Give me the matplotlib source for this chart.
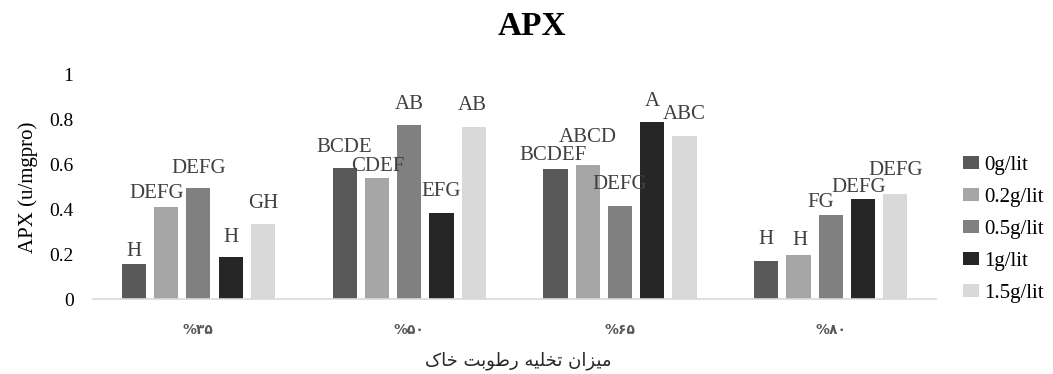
import matplotlib
matplotlib.use('Agg')
import matplotlib.pyplot as plt
import numpy as np

# Data
categories = ['%\u06f3\u06f5', '%\u06f5\u06f0', '%\u06f6\u06f5', '%\u06f8\u06f0']
doses = ['0g/lit', '0.2g/lit', '0.5g/lit', '1g/lit', '1.5g/lit']
apx_0 = [0.155, 0.585, 0.58, 0.17]
apx_02 = [0.41, 0.54, 0.60, 0.196]
apx_05 = [0.495, 0.775, 0.417, 0.377]
apx_1 = [0.186, 0.386, 0.79, 0.448]
apx_15 = [0.336, 0.768, 0.726, 0.469]
letters_0 = ['H', 'BCDE', 'BCDEF', 'H']
letters_02 = ['DEFG', 'CDEF', 'ABCD', 'H']
letters_05 = ['DEFG', 'AB', 'DEFG', 'FG']
letters_1 = ['H', 'EFG', 'A', 'DEFG']
letters_15 = ['GH', 'AB', 'ABC', 'DEFG']

series = [apx_0, apx_02, apx_05, apx_1, apx_15]
letters = [letters_0, letters_02, letters_05, letters_1, letters_15]
colors = ['#595959', '#a6a6a6', '#808080', '#262626', '#d9d9d9']

# label nudges in pixels (dx, height of label centre above bar top), per series/category
nudges = [
    [(0, 13), (0, 20), (-2, 14), (0, 21)],
    [(-9, 14), (1, 12), (0, 27), (1, 15)],
    [(0, 20), (0, 21), (0, 21), (-10, 12)],
    [(0, 20), (0, 21), (0, 21), (-4, 11)],
    [(0, 20), (-1, 21), (0, 22), (0, 23)],
]

# visual-order presentation forms: "میزان تخلیه رطوبت خاک"
xlabel = ('\ufb8e\ufe8e\ufea7 \ufe96\ufe91\ufeee\ufec3\ufead '
          '\ufeea\ufbff\ufee0\ufea8\ufe97 \ufee5\ufe8d\ufeb0\ufbff\ufee3')

serif = ['Liberation Serif', 'DejaVu Serif']
px = 72.0 / 100  # points per pixel

fig = plt.figure(figsize=(10.53, 3.74), dpi=100)
ax = fig.add_axes([0.0883, 0.2005, 0.8007, 0.599])

x = np.arange(len(categories))
step = 0.153
width = 0.115
for i, vals in enumerate(series):
    pos = x + (i - 2) * step
    ax.bar(pos, vals, width, color=colors[i], label=doses[i], zorder=2)
    for j, v in enumerate(vals):
        dx, dy = nudges[i][j]
        ax.annotate(letters[i][j], (pos[j], v), xytext=(dx * px, dy * px),
                    textcoords='offset points', ha='center', va='center',
                    fontsize=15, family=serif, color='#404040')

ax.set_xlim(-0.5, len(categories) - 0.5)
ax.set_ylim(0, 1)
ax.set_yticks([0, 0.2, 0.4, 0.6, 0.8, 1])
ax.set_yticklabels(['0', '0.2', '0.4', '0.6', '0.8', '1'], family=serif, fontsize=14)
ax.set_xticks(x)
ax.set_xticklabels(categories, family=['DejaVu Sans'], fontweight='bold',
                   fontsize=10, color='#595959')
ax.tick_params(axis='both', length=0)
ax.tick_params(axis='y', pad=14)
ax.tick_params(axis='x', pad=17)
for s in ['top', 'right', 'left']:
    ax.spines[s].set_visible(False)
ax.spines['bottom'].set_color('#d9d9d9')
ax.spines['bottom'].set_linewidth(1.2)

ax.set_ylabel('APX (u/mgpro)', family=serif, fontsize=15, labelpad=8)
fig.text(0.492, 0.035, xlabel, family=['DejaVu Sans'], fontsize=13,
         ha='center', va='center', color='#262626')
fig.text(0.505, 0.93, 'APX', family=serif, fontsize=24, fontweight='bold',
         ha='center', va='center')

leg = fig.legend(loc='upper left', bbox_to_anchor=(0.907, 0.605), frameon=False,
                 prop={'family': serif, 'size': 15}, handlelength=0.75,
                 handleheight=0.6, handletextpad=0.25, labelspacing=0.62,
                 borderaxespad=0)

fig.savefig('out.png', dpi=100)
